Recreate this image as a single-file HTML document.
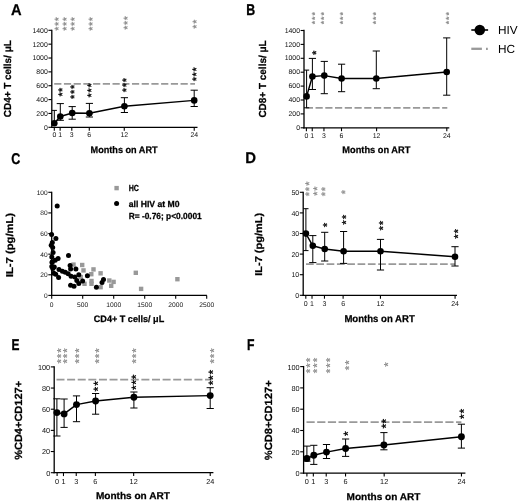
<!DOCTYPE html>
<html><head><meta charset="utf-8"><title>Figure</title>
<style>html,body{margin:0;padding:0;background:#fff;width:520px;height:503px;overflow:hidden}
svg{display:block;font-family:"Liberation Sans", sans-serif;filter:blur(0.3px)}</style></head>
<body>
<svg width="520" height="503" viewBox="0 0 520 503" text-rendering="geometricPrecision" font-family='"Liberation Sans", sans-serif'>
<rect width="520" height="503" fill="#fff"/>
<text font-size="15.6" font-weight="bold" stroke="#000" stroke-width="0.27" transform="translate(10.88 14.7) scale(0.941 1)">A</text>
<text font-size="15.6" font-weight="bold" stroke="#000" stroke-width="0.32" transform="translate(246.27 14.6) scale(0.793 1)">B</text>
<text font-size="15.6" font-weight="bold" stroke="#000" stroke-width="0.31" transform="translate(11.19 163.6) scale(0.804 1)">C</text>
<text font-size="15.6" font-weight="bold" stroke="#000" stroke-width="0.26" transform="translate(245.15 163.4) scale(0.957 1)">D</text>
<text font-size="15.6" font-weight="bold" stroke="#000" stroke-width="0.33" transform="translate(11.4 349.7) scale(0.766 1)">E</text>
<text font-size="15.6" font-weight="bold" stroke="#000" stroke-width="0.32" transform="translate(246.98 349.6) scale(0.784 1)">F</text>
<line x1="54.2" y1="83.9" x2="195" y2="83.9" stroke="#999" stroke-width="1.6" stroke-dasharray="7.2 2.52" stroke-linecap="butt"/>
<line x1="51.8" y1="29.65" x2="51.8" y2="127.95" stroke="#000" stroke-width="1.3" stroke-linecap="butt"/>
<line x1="48.4" y1="127.3" x2="51.8" y2="127.3" stroke="#000" stroke-width="1.1" stroke-linecap="butt"/>
<text x="47.8" y="129.68" font-size="6.9" text-anchor="end" fill="#111">0</text>
<line x1="48.4" y1="113.44" x2="51.8" y2="113.44" stroke="#000" stroke-width="1.1" stroke-linecap="butt"/>
<text x="47.8" y="115.83" font-size="6.9" text-anchor="end" fill="#111">200</text>
<line x1="48.4" y1="99.59" x2="51.8" y2="99.59" stroke="#000" stroke-width="1.1" stroke-linecap="butt"/>
<text x="47.8" y="101.97" font-size="6.9" text-anchor="end" fill="#111">400</text>
<line x1="48.4" y1="85.73" x2="51.8" y2="85.73" stroke="#000" stroke-width="1.1" stroke-linecap="butt"/>
<text x="47.8" y="88.11" font-size="6.9" text-anchor="end" fill="#111">600</text>
<line x1="48.4" y1="71.87" x2="51.8" y2="71.87" stroke="#000" stroke-width="1.1" stroke-linecap="butt"/>
<text x="47.8" y="74.26" font-size="6.9" text-anchor="end" fill="#111">800</text>
<line x1="48.4" y1="58.01" x2="51.8" y2="58.01" stroke="#000" stroke-width="1.1" stroke-linecap="butt"/>
<text x="47.8" y="60.4" font-size="6.9" text-anchor="end" fill="#111">1000</text>
<line x1="48.4" y1="44.16" x2="51.8" y2="44.16" stroke="#000" stroke-width="1.1" stroke-linecap="butt"/>
<text x="47.8" y="46.54" font-size="6.9" text-anchor="end" fill="#111">1200</text>
<line x1="48.4" y1="30.3" x2="51.8" y2="30.3" stroke="#000" stroke-width="1.1" stroke-linecap="butt"/>
<text x="47.8" y="32.68" font-size="6.9" text-anchor="end" fill="#111">1400</text>
<line x1="51.15" y1="127.3" x2="197.5" y2="127.3" stroke="#000" stroke-width="1.3" stroke-linecap="butt"/>
<line x1="54.3" y1="127.3" x2="54.3" y2="130.7" stroke="#000" stroke-width="1.1" stroke-linecap="butt"/>
<text x="54.3" y="137.46" font-size="6.9" text-anchor="middle" fill="#111">0</text>
<line x1="60.13" y1="127.3" x2="60.13" y2="130.7" stroke="#000" stroke-width="1.1" stroke-linecap="butt"/>
<text x="60.13" y="137.46" font-size="6.9" text-anchor="middle" fill="#111">1</text>
<line x1="71.79" y1="127.3" x2="71.79" y2="130.7" stroke="#000" stroke-width="1.1" stroke-linecap="butt"/>
<text x="71.79" y="137.46" font-size="6.9" text-anchor="middle" fill="#111">3</text>
<line x1="89.28" y1="127.3" x2="89.28" y2="130.7" stroke="#000" stroke-width="1.1" stroke-linecap="butt"/>
<text x="89.28" y="137.46" font-size="6.9" text-anchor="middle" fill="#111">6</text>
<line x1="124.26" y1="127.3" x2="124.26" y2="130.7" stroke="#000" stroke-width="1.1" stroke-linecap="butt"/>
<text x="124.26" y="137.46" font-size="6.9" text-anchor="middle" fill="#111">12</text>
<line x1="194.22" y1="127.3" x2="194.22" y2="130.7" stroke="#000" stroke-width="1.1" stroke-linecap="butt"/>
<text x="194.22" y="137.46" font-size="6.9" text-anchor="middle" fill="#111">24</text>
<path d="M54.3 123.3L60.3 116.5L72.2 113L89.4 113.2L124.4 106.2L194.2 100.4" stroke="#000" stroke-width="1.45" fill="none" stroke-linejoin="round"/>
<line x1="54.3" y1="110.4" x2="54.3" y2="123.3" stroke="#000" stroke-width="1" stroke-linecap="butt"/>
<line x1="51.7" y1="110.4" x2="56.9" y2="110.4" stroke="#000" stroke-width="1" stroke-linecap="butt"/>
<line x1="60.3" y1="103.6" x2="60.3" y2="116.5" stroke="#000" stroke-width="1" stroke-linecap="butt"/>
<line x1="56.7" y1="103.6" x2="63.9" y2="103.6" stroke="#000" stroke-width="1" stroke-linecap="butt"/>
<line x1="60.3" y1="116.5" x2="60.3" y2="120.3" stroke="#000" stroke-width="1" stroke-linecap="butt"/>
<line x1="56.7" y1="120.3" x2="63.9" y2="120.3" stroke="#000" stroke-width="1" stroke-linecap="butt"/>
<line x1="72.2" y1="106.6" x2="72.2" y2="113" stroke="#000" stroke-width="1" stroke-linecap="butt"/>
<line x1="68.6" y1="106.6" x2="75.8" y2="106.6" stroke="#000" stroke-width="1" stroke-linecap="butt"/>
<line x1="72.2" y1="113" x2="72.2" y2="119.2" stroke="#000" stroke-width="1" stroke-linecap="butt"/>
<line x1="68.6" y1="119.2" x2="75.8" y2="119.2" stroke="#000" stroke-width="1" stroke-linecap="butt"/>
<line x1="89.4" y1="103.4" x2="89.4" y2="113.2" stroke="#000" stroke-width="1" stroke-linecap="butt"/>
<line x1="85.8" y1="103.4" x2="93" y2="103.4" stroke="#000" stroke-width="1" stroke-linecap="butt"/>
<line x1="89.4" y1="113.2" x2="89.4" y2="117" stroke="#000" stroke-width="1" stroke-linecap="butt"/>
<line x1="85.8" y1="117" x2="93" y2="117" stroke="#000" stroke-width="1" stroke-linecap="butt"/>
<line x1="124.4" y1="97.7" x2="124.4" y2="106.2" stroke="#000" stroke-width="1" stroke-linecap="butt"/>
<line x1="120.8" y1="97.7" x2="128" y2="97.7" stroke="#000" stroke-width="1" stroke-linecap="butt"/>
<line x1="124.4" y1="106.2" x2="124.4" y2="112.5" stroke="#000" stroke-width="1" stroke-linecap="butt"/>
<line x1="120.8" y1="112.5" x2="128" y2="112.5" stroke="#000" stroke-width="1" stroke-linecap="butt"/>
<line x1="194.2" y1="90.2" x2="194.2" y2="100.4" stroke="#000" stroke-width="1" stroke-linecap="butt"/>
<line x1="190.6" y1="90.2" x2="197.8" y2="90.2" stroke="#000" stroke-width="1" stroke-linecap="butt"/>
<line x1="194.2" y1="100.4" x2="194.2" y2="106.5" stroke="#000" stroke-width="1" stroke-linecap="butt"/>
<line x1="190.6" y1="106.5" x2="197.8" y2="106.5" stroke="#000" stroke-width="1" stroke-linecap="butt"/>
<circle cx="54.3" cy="123.3" r="3.3"/>
<circle cx="60.3" cy="116.5" r="3.3"/>
<circle cx="72.2" cy="113" r="3.3"/>
<circle cx="89.4" cy="113.2" r="3.3"/>
<circle cx="124.4" cy="106.2" r="3.3"/>
<circle cx="194.2" cy="100.4" r="3.3"/>
<text x="66.44" y="92" font-size="10.8" stroke="#000" stroke-width="0.35" transform="rotate(-90 66.44 92)">*</text>
<text x="66.44" y="96.4" font-size="10.8" stroke="#000" stroke-width="0.35" transform="rotate(-90 66.44 96.4)">*</text>
<text x="78.14" y="89" font-size="10.8" stroke="#000" stroke-width="0.35" transform="rotate(-90 78.14 89)">*</text>
<text x="78.14" y="94" font-size="10.8" stroke="#000" stroke-width="0.35" transform="rotate(-90 78.14 94)">*</text>
<text x="78.14" y="99" font-size="10.8" stroke="#000" stroke-width="0.35" transform="rotate(-90 78.14 99)">*</text>
<text x="95.34" y="87.6" font-size="10.8" stroke="#000" stroke-width="0.35" transform="rotate(-90 95.34 87.6)">*</text>
<text x="95.34" y="92.6" font-size="10.8" stroke="#000" stroke-width="0.35" transform="rotate(-90 95.34 92.6)">*</text>
<text x="95.34" y="97.6" font-size="10.8" stroke="#000" stroke-width="0.35" transform="rotate(-90 95.34 97.6)">*</text>
<text x="130.34" y="82.3" font-size="10.8" stroke="#000" stroke-width="0.35" transform="rotate(-90 130.34 82.3)">*</text>
<text x="130.34" y="87.3" font-size="10.8" stroke="#000" stroke-width="0.35" transform="rotate(-90 130.34 87.3)">*</text>
<text x="130.34" y="92.3" font-size="10.8" stroke="#000" stroke-width="0.35" transform="rotate(-90 130.34 92.3)">*</text>
<text x="200.34" y="71.5" font-size="10.8" stroke="#000" stroke-width="0.35" transform="rotate(-90 200.34 71.5)">*</text>
<text x="200.34" y="76.4" font-size="10.8" stroke="#000" stroke-width="0.35" transform="rotate(-90 200.34 76.4)">*</text>
<text x="200.34" y="81.2" font-size="10.8" stroke="#000" stroke-width="0.35" transform="rotate(-90 200.34 81.2)">*</text>
<text x="62.28" y="21.35" font-size="10.5" fill="#888" stroke="#888" stroke-width="0.25" transform="rotate(-90 62.28 21.35)">*</text>
<text x="62.28" y="26.05" font-size="10.5" fill="#888" stroke="#888" stroke-width="0.25" transform="rotate(-90 62.28 26.05)">*</text>
<text x="62.28" y="30.75" font-size="10.5" fill="#888" stroke="#888" stroke-width="0.25" transform="rotate(-90 62.28 30.75)">*</text>
<text x="69.98" y="21.35" font-size="10.5" fill="#888" stroke="#888" stroke-width="0.25" transform="rotate(-90 69.98 21.35)">*</text>
<text x="69.98" y="26.05" font-size="10.5" fill="#888" stroke="#888" stroke-width="0.25" transform="rotate(-90 69.98 26.05)">*</text>
<text x="69.98" y="30.75" font-size="10.5" fill="#888" stroke="#888" stroke-width="0.25" transform="rotate(-90 69.98 30.75)">*</text>
<text x="78.08" y="21.35" font-size="10.5" fill="#888" stroke="#888" stroke-width="0.25" transform="rotate(-90 78.08 21.35)">*</text>
<text x="78.08" y="26.05" font-size="10.5" fill="#888" stroke="#888" stroke-width="0.25" transform="rotate(-90 78.08 26.05)">*</text>
<text x="78.08" y="30.75" font-size="10.5" fill="#888" stroke="#888" stroke-width="0.25" transform="rotate(-90 78.08 30.75)">*</text>
<text x="95.78" y="21.35" font-size="10.5" fill="#888" stroke="#888" stroke-width="0.25" transform="rotate(-90 95.78 21.35)">*</text>
<text x="95.78" y="26.05" font-size="10.5" fill="#888" stroke="#888" stroke-width="0.25" transform="rotate(-90 95.78 26.05)">*</text>
<text x="95.78" y="30.75" font-size="10.5" fill="#888" stroke="#888" stroke-width="0.25" transform="rotate(-90 95.78 30.75)">*</text>
<text x="131.18" y="20.25" font-size="10.5" fill="#888" stroke="#888" stroke-width="0.25" transform="rotate(-90 131.18 20.25)">*</text>
<text x="131.18" y="25.05" font-size="10.5" fill="#888" stroke="#888" stroke-width="0.25" transform="rotate(-90 131.18 25.05)">*</text>
<text x="131.18" y="29.85" font-size="10.5" fill="#888" stroke="#888" stroke-width="0.25" transform="rotate(-90 131.18 29.85)">*</text>
<text x="200.18" y="23.85" font-size="10.5" fill="#888" stroke="#888" stroke-width="0.25" transform="rotate(-90 200.18 23.85)">*</text>
<text x="200.18" y="28.85" font-size="10.5" fill="#888" stroke="#888" stroke-width="0.25" transform="rotate(-90 200.18 28.85)">*</text>
<text x="10.6" y="117.2" font-size="10.2" font-weight="bold" textLength="77" lengthAdjust="spacingAndGlyphs" transform="rotate(-90 10.6 117.2)" stroke="#000" stroke-width="0.25">CD4+ T cells/ μL</text>
<text x="90.6" y="152.6" font-size="9.6" font-weight="bold" textLength="67" lengthAdjust="spacingAndGlyphs" stroke="#000" stroke-width="0.25">Months on ART</text>
<line x1="305.8" y1="107.9" x2="447.3" y2="107.9" stroke="#999" stroke-width="1.6" stroke-dasharray="7.2 2.54" stroke-linecap="butt"/>
<line x1="304" y1="29.85" x2="304" y2="128.45" stroke="#000" stroke-width="1.3" stroke-linecap="butt"/>
<line x1="300.6" y1="127.8" x2="304" y2="127.8" stroke="#000" stroke-width="1.1" stroke-linecap="butt"/>
<text x="300" y="129.98" font-size="6.9" text-anchor="end" fill="#111">0</text>
<line x1="300.6" y1="113.9" x2="304" y2="113.9" stroke="#000" stroke-width="1.1" stroke-linecap="butt"/>
<text x="300" y="116.08" font-size="6.9" text-anchor="end" fill="#111">200</text>
<line x1="300.6" y1="100" x2="304" y2="100" stroke="#000" stroke-width="1.1" stroke-linecap="butt"/>
<text x="300" y="102.18" font-size="6.9" text-anchor="end" fill="#111">400</text>
<line x1="300.6" y1="86.1" x2="304" y2="86.1" stroke="#000" stroke-width="1.1" stroke-linecap="butt"/>
<text x="300" y="88.28" font-size="6.9" text-anchor="end" fill="#111">600</text>
<line x1="300.6" y1="72.2" x2="304" y2="72.2" stroke="#000" stroke-width="1.1" stroke-linecap="butt"/>
<text x="300" y="74.38" font-size="6.9" text-anchor="end" fill="#111">800</text>
<line x1="300.6" y1="58.3" x2="304" y2="58.3" stroke="#000" stroke-width="1.1" stroke-linecap="butt"/>
<text x="300" y="60.48" font-size="6.9" text-anchor="end" fill="#111">1000</text>
<line x1="300.6" y1="44.4" x2="304" y2="44.4" stroke="#000" stroke-width="1.1" stroke-linecap="butt"/>
<text x="300" y="46.58" font-size="6.9" text-anchor="end" fill="#111">1200</text>
<line x1="300.6" y1="30.5" x2="304" y2="30.5" stroke="#000" stroke-width="1.1" stroke-linecap="butt"/>
<text x="300" y="32.68" font-size="6.9" text-anchor="end" fill="#111">1400</text>
<line x1="303.35" y1="127.8" x2="449.3" y2="127.8" stroke="#000" stroke-width="1.3" stroke-linecap="butt"/>
<line x1="306.4" y1="127.8" x2="306.4" y2="131.2" stroke="#000" stroke-width="1.1" stroke-linecap="butt"/>
<text x="306.4" y="137.96" font-size="6.9" text-anchor="middle" fill="#111">0</text>
<line x1="312.25" y1="127.8" x2="312.25" y2="131.2" stroke="#000" stroke-width="1.1" stroke-linecap="butt"/>
<text x="312.25" y="137.96" font-size="6.9" text-anchor="middle" fill="#111">1</text>
<line x1="323.95" y1="127.8" x2="323.95" y2="131.2" stroke="#000" stroke-width="1.1" stroke-linecap="butt"/>
<text x="323.95" y="137.96" font-size="6.9" text-anchor="middle" fill="#111">3</text>
<line x1="341.5" y1="127.8" x2="341.5" y2="131.2" stroke="#000" stroke-width="1.1" stroke-linecap="butt"/>
<text x="341.5" y="137.96" font-size="6.9" text-anchor="middle" fill="#111">6</text>
<line x1="376.6" y1="127.8" x2="376.6" y2="131.2" stroke="#000" stroke-width="1.1" stroke-linecap="butt"/>
<text x="376.6" y="137.96" font-size="6.9" text-anchor="middle" fill="#111">12</text>
<line x1="446.8" y1="127.8" x2="446.8" y2="131.2" stroke="#000" stroke-width="1.1" stroke-linecap="butt"/>
<text x="446.8" y="137.96" font-size="6.9" text-anchor="middle" fill="#111">24</text>
<path d="M306.6 96.4L312.4 76.5L324.3 75.6L341.6 78.5L376.3 78.5L446.7 72" stroke="#000" stroke-width="1.45" fill="none" stroke-linejoin="round"/>
<line x1="306.6" y1="70.1" x2="306.6" y2="96.4" stroke="#000" stroke-width="1" stroke-linecap="butt"/>
<line x1="304" y1="70.1" x2="309.2" y2="70.1" stroke="#000" stroke-width="1" stroke-linecap="butt"/>
<line x1="306.6" y1="96.4" x2="306.6" y2="107.8" stroke="#000" stroke-width="1" stroke-linecap="butt"/>
<line x1="304" y1="107.8" x2="309.2" y2="107.8" stroke="#000" stroke-width="1" stroke-linecap="butt"/>
<line x1="312.4" y1="58.4" x2="312.4" y2="76.5" stroke="#000" stroke-width="1" stroke-linecap="butt"/>
<line x1="308.8" y1="58.4" x2="316" y2="58.4" stroke="#000" stroke-width="1" stroke-linecap="butt"/>
<line x1="312.4" y1="76.5" x2="312.4" y2="89.5" stroke="#000" stroke-width="1" stroke-linecap="butt"/>
<line x1="308.8" y1="89.5" x2="316" y2="89.5" stroke="#000" stroke-width="1" stroke-linecap="butt"/>
<line x1="324.3" y1="61.4" x2="324.3" y2="75.6" stroke="#000" stroke-width="1" stroke-linecap="butt"/>
<line x1="320.7" y1="61.4" x2="327.9" y2="61.4" stroke="#000" stroke-width="1" stroke-linecap="butt"/>
<line x1="324.3" y1="75.6" x2="324.3" y2="93.7" stroke="#000" stroke-width="1" stroke-linecap="butt"/>
<line x1="320.7" y1="93.7" x2="327.9" y2="93.7" stroke="#000" stroke-width="1" stroke-linecap="butt"/>
<line x1="341.6" y1="64.2" x2="341.6" y2="78.5" stroke="#000" stroke-width="1" stroke-linecap="butt"/>
<line x1="338" y1="64.2" x2="345.2" y2="64.2" stroke="#000" stroke-width="1" stroke-linecap="butt"/>
<line x1="341.6" y1="78.5" x2="341.6" y2="91.7" stroke="#000" stroke-width="1" stroke-linecap="butt"/>
<line x1="338" y1="91.7" x2="345.2" y2="91.7" stroke="#000" stroke-width="1" stroke-linecap="butt"/>
<line x1="376.3" y1="51" x2="376.3" y2="78.5" stroke="#000" stroke-width="1" stroke-linecap="butt"/>
<line x1="372.7" y1="51" x2="379.9" y2="51" stroke="#000" stroke-width="1" stroke-linecap="butt"/>
<line x1="376.3" y1="78.5" x2="376.3" y2="88.7" stroke="#000" stroke-width="1" stroke-linecap="butt"/>
<line x1="372.7" y1="88.7" x2="379.9" y2="88.7" stroke="#000" stroke-width="1" stroke-linecap="butt"/>
<line x1="446.7" y1="37.9" x2="446.7" y2="72" stroke="#000" stroke-width="1" stroke-linecap="butt"/>
<line x1="443.1" y1="37.9" x2="450.3" y2="37.9" stroke="#000" stroke-width="1" stroke-linecap="butt"/>
<line x1="446.7" y1="72" x2="446.7" y2="95.2" stroke="#000" stroke-width="1" stroke-linecap="butt"/>
<line x1="443.1" y1="95.2" x2="450.3" y2="95.2" stroke="#000" stroke-width="1" stroke-linecap="butt"/>
<circle cx="306.6" cy="96.4" r="3.3"/>
<circle cx="312.4" cy="76.5" r="3.3"/>
<circle cx="324.3" cy="75.6" r="3.3"/>
<circle cx="341.6" cy="78.5" r="3.3"/>
<circle cx="376.3" cy="78.5" r="3.3"/>
<circle cx="446.7" cy="72" r="3.3"/>
<text x="319.74" y="54.98" font-size="11.2" stroke="#000" stroke-width="0.35" transform="rotate(-90 319.74 54.98)">*</text>
<text x="318.41" y="15.61" font-size="8.8" fill="#888" stroke="#888" stroke-width="0.25" transform="rotate(-90 318.41 15.61)">*</text>
<text x="318.41" y="19.91" font-size="8.8" fill="#888" stroke="#888" stroke-width="0.25" transform="rotate(-90 318.41 19.91)">*</text>
<text x="318.41" y="24.21" font-size="8.8" fill="#888" stroke="#888" stroke-width="0.25" transform="rotate(-90 318.41 24.21)">*</text>
<text x="326.91" y="15.61" font-size="8.8" fill="#888" stroke="#888" stroke-width="0.25" transform="rotate(-90 326.91 15.61)">*</text>
<text x="326.91" y="19.91" font-size="8.8" fill="#888" stroke="#888" stroke-width="0.25" transform="rotate(-90 326.91 19.91)">*</text>
<text x="326.91" y="24.21" font-size="8.8" fill="#888" stroke="#888" stroke-width="0.25" transform="rotate(-90 326.91 24.21)">*</text>
<text x="346.11" y="15.61" font-size="8.8" fill="#888" stroke="#888" stroke-width="0.25" transform="rotate(-90 346.11 15.61)">*</text>
<text x="346.11" y="19.91" font-size="8.8" fill="#888" stroke="#888" stroke-width="0.25" transform="rotate(-90 346.11 19.91)">*</text>
<text x="346.11" y="24.21" font-size="8.8" fill="#888" stroke="#888" stroke-width="0.25" transform="rotate(-90 346.11 24.21)">*</text>
<text x="378.71" y="15.61" font-size="8.8" fill="#888" stroke="#888" stroke-width="0.25" transform="rotate(-90 378.71 15.61)">*</text>
<text x="378.71" y="19.91" font-size="8.8" fill="#888" stroke="#888" stroke-width="0.25" transform="rotate(-90 378.71 19.91)">*</text>
<text x="378.71" y="24.21" font-size="8.8" fill="#888" stroke="#888" stroke-width="0.25" transform="rotate(-90 378.71 24.21)">*</text>
<text x="451.91" y="15.61" font-size="8.8" fill="#888" stroke="#888" stroke-width="0.25" transform="rotate(-90 451.91 15.61)">*</text>
<text x="451.91" y="19.91" font-size="8.8" fill="#888" stroke="#888" stroke-width="0.25" transform="rotate(-90 451.91 19.91)">*</text>
<text x="451.91" y="24.21" font-size="8.8" fill="#888" stroke="#888" stroke-width="0.25" transform="rotate(-90 451.91 24.21)">*</text>
<text x="266.4" y="117.6" font-size="10.2" font-weight="bold" textLength="77.3" lengthAdjust="spacingAndGlyphs" transform="rotate(-90 266.4 117.6)" stroke="#000" stroke-width="0.25">CD8+ T cells/ μL</text>
<text x="342.3" y="152.6" font-size="9.6" font-weight="bold" textLength="68" lengthAdjust="spacingAndGlyphs" stroke="#000" stroke-width="0.25">Months on ART</text>
<line x1="471.3" y1="30" x2="488.1" y2="30" stroke="#000" stroke-width="1.6" stroke-linecap="butt"/>
<circle cx="479.8" cy="30" r="5.3"/>
<text x="498" y="34.1" font-size="11.8">HIV</text>
<line x1="471.3" y1="48.8" x2="481.9" y2="48.8" stroke="#999" stroke-width="2.3" stroke-linecap="butt"/>
<line x1="486" y1="48.8" x2="487.8" y2="48.8" stroke="#999" stroke-width="2.3" stroke-linecap="butt"/>
<text x="498" y="53.1" font-size="11.8">HC</text>
<line x1="51.7" y1="191.65" x2="51.7" y2="296.05" stroke="#000" stroke-width="1.3" stroke-linecap="butt"/>
<line x1="48.3" y1="295.4" x2="51.7" y2="295.4" stroke="#000" stroke-width="1.1" stroke-linecap="butt"/>
<text x="47.7" y="297.78" font-size="6.6" text-anchor="end" fill="#111">0</text>
<line x1="48.3" y1="274.78" x2="51.7" y2="274.78" stroke="#000" stroke-width="1.1" stroke-linecap="butt"/>
<text x="47.7" y="277.16" font-size="6.6" text-anchor="end" fill="#111">20</text>
<line x1="48.3" y1="254.16" x2="51.7" y2="254.16" stroke="#000" stroke-width="1.1" stroke-linecap="butt"/>
<text x="47.7" y="256.54" font-size="6.6" text-anchor="end" fill="#111">40</text>
<line x1="48.3" y1="233.54" x2="51.7" y2="233.54" stroke="#000" stroke-width="1.1" stroke-linecap="butt"/>
<text x="47.7" y="235.92" font-size="6.6" text-anchor="end" fill="#111">60</text>
<line x1="48.3" y1="212.92" x2="51.7" y2="212.92" stroke="#000" stroke-width="1.1" stroke-linecap="butt"/>
<text x="47.7" y="215.3" font-size="6.6" text-anchor="end" fill="#111">80</text>
<line x1="48.3" y1="192.3" x2="51.7" y2="192.3" stroke="#000" stroke-width="1.1" stroke-linecap="butt"/>
<text x="47.7" y="194.68" font-size="6.6" text-anchor="end" fill="#111">100</text>
<line x1="51.05" y1="295.4" x2="206.9" y2="295.4" stroke="#000" stroke-width="1.3" stroke-linecap="butt"/>
<line x1="51.7" y1="295.4" x2="51.7" y2="298.8" stroke="#000" stroke-width="1.1" stroke-linecap="butt"/>
<text x="51.7" y="306.6" font-size="6.7" text-anchor="middle" fill="#111">0</text>
<line x1="82.7" y1="295.4" x2="82.7" y2="298.8" stroke="#000" stroke-width="1.1" stroke-linecap="butt"/>
<text x="82.7" y="306.6" font-size="6.7" text-anchor="middle" fill="#111">500</text>
<line x1="113.7" y1="295.4" x2="113.7" y2="298.8" stroke="#000" stroke-width="1.1" stroke-linecap="butt"/>
<text x="113.7" y="306.6" font-size="6.7" text-anchor="middle" fill="#111">1000</text>
<line x1="144.7" y1="295.4" x2="144.7" y2="298.8" stroke="#000" stroke-width="1.1" stroke-linecap="butt"/>
<text x="144.7" y="306.6" font-size="6.7" text-anchor="middle" fill="#111">1500</text>
<line x1="175.7" y1="295.4" x2="175.7" y2="298.8" stroke="#000" stroke-width="1.1" stroke-linecap="butt"/>
<text x="175.7" y="306.6" font-size="6.7" text-anchor="middle" fill="#111">2000</text>
<line x1="206.7" y1="295.4" x2="206.7" y2="298.8" stroke="#000" stroke-width="1.1" stroke-linecap="butt"/>
<text x="206.7" y="306.6" font-size="6.7" text-anchor="middle" fill="#111">2500</text>
<rect x="71.3" y="262.4" width="4.4" height="4.4" fill="#999"/>
<rect x="80" y="262.8" width="4.4" height="4.4" fill="#999"/>
<rect x="81.3" y="268.2" width="4.4" height="4.4" fill="#999"/>
<rect x="91.3" y="267.2" width="4.4" height="4.4" fill="#999"/>
<rect x="98.4" y="271.1" width="4.4" height="4.4" fill="#999"/>
<rect x="89.1" y="272" width="4.4" height="4.4" fill="#999"/>
<rect x="78.5" y="274.9" width="4.4" height="4.4" fill="#999"/>
<rect x="89.3" y="278.8" width="4.4" height="4.4" fill="#999"/>
<rect x="89.3" y="281.6" width="4.4" height="4.4" fill="#999"/>
<rect x="82.3" y="281.6" width="4.4" height="4.4" fill="#999"/>
<rect x="98.4" y="285" width="4.4" height="4.4" fill="#999"/>
<rect x="107.1" y="278.3" width="4.4" height="4.4" fill="#999"/>
<rect x="111.4" y="279.7" width="4.4" height="4.4" fill="#999"/>
<rect x="109" y="283.6" width="4.4" height="4.4" fill="#999"/>
<rect x="133.6" y="270.6" width="4.4" height="4.4" fill="#999"/>
<rect x="175.2" y="277" width="4.4" height="4.4" fill="#999"/>
<rect x="138.9" y="286.7" width="4.4" height="4.4" fill="#999"/>
<circle cx="57.2" cy="206.1" r="2.5"/>
<circle cx="51.6" cy="234.6" r="2.5"/>
<circle cx="55.9" cy="238.5" r="2.5"/>
<circle cx="52.3" cy="242.4" r="2.5"/>
<circle cx="51.2" cy="245.2" r="2.5"/>
<circle cx="52.7" cy="247.6" r="2.5"/>
<circle cx="53.1" cy="252.4" r="2.5"/>
<circle cx="68.5" cy="255.5" r="2.5"/>
<circle cx="51.8" cy="257" r="2.5"/>
<circle cx="58.1" cy="258.4" r="2.5"/>
<circle cx="52.3" cy="261.7" r="2.5"/>
<circle cx="55.2" cy="260.2" r="2.5"/>
<circle cx="52" cy="262.6" r="2.5"/>
<circle cx="51.8" cy="266.5" r="2.5"/>
<circle cx="54.3" cy="267" r="2.5"/>
<circle cx="52.8" cy="268.5" r="2.5"/>
<circle cx="59" cy="269.4" r="2.5"/>
<circle cx="62.4" cy="271.3" r="2.5"/>
<circle cx="65.3" cy="272.3" r="2.5"/>
<circle cx="68.2" cy="273.8" r="2.5"/>
<circle cx="70.1" cy="265.6" r="2.5"/>
<circle cx="70.6" cy="269" r="2.5"/>
<circle cx="75.9" cy="269" r="2.5"/>
<circle cx="78.8" cy="274.7" r="2.5"/>
<circle cx="74.9" cy="277.1" r="2.5"/>
<circle cx="71.1" cy="276.2" r="2.5"/>
<circle cx="55.7" cy="274.2" r="2.5"/>
<circle cx="58.6" cy="277.6" r="2.5"/>
<circle cx="53.8" cy="273.3" r="2.5"/>
<circle cx="87.4" cy="275.7" r="2.5"/>
<circle cx="76.8" cy="280.5" r="2.5"/>
<circle cx="82.6" cy="281" r="2.5"/>
<circle cx="78.8" cy="283.4" r="2.5"/>
<circle cx="70.6" cy="285.3" r="2.5"/>
<circle cx="74" cy="286.3" r="2.5"/>
<circle cx="96.4" cy="287.2" r="2.5"/>
<circle cx="103.5" cy="279.5" r="2.5"/>
<circle cx="102" cy="282.4" r="2.5"/>
<rect x="114.4" y="185.9" width="4.4" height="4.4" fill="#999"/>
<circle cx="116.6" cy="203.6" r="2.5"/>
<text x="128.7" y="191.3" font-size="8.8" font-weight="bold" textLength="10.2" lengthAdjust="spacingAndGlyphs" stroke="#000" stroke-width="0.25">HC</text>
<text x="128.7" y="207.2" font-size="8.8" font-weight="bold" textLength="50.8" lengthAdjust="spacingAndGlyphs" stroke="#000" stroke-width="0.25">all HIV at M0</text>
<text x="128.7" y="219.4" font-size="8.8" font-weight="bold" textLength="73" lengthAdjust="spacingAndGlyphs" stroke="#000" stroke-width="0.25">R= -0.76; p&lt;0.0001</text>
<text x="13.1" y="277.1" font-size="10" font-weight="bold" textLength="64.2" lengthAdjust="spacingAndGlyphs" transform="rotate(-90 13.1 277.1)" stroke="#000" stroke-width="0.25">IL-7 (pg/mL)</text>
<text x="93.8" y="321.7" font-size="9.3" font-weight="bold" textLength="70.4" lengthAdjust="spacingAndGlyphs" stroke="#000" stroke-width="0.25">CD4+ T cells/ μL</text>
<line x1="306" y1="264.1" x2="455" y2="264.1" stroke="#999" stroke-width="1.6" stroke-dasharray="7.7 2.61" stroke-linecap="butt"/>
<line x1="303.2" y1="191.65" x2="303.2" y2="295.95" stroke="#000" stroke-width="1.3" stroke-linecap="butt"/>
<line x1="299.8" y1="295.3" x2="303.2" y2="295.3" stroke="#000" stroke-width="1.1" stroke-linecap="butt"/>
<text x="299.2" y="297.92" font-size="7" text-anchor="end" fill="#111">0</text>
<line x1="299.8" y1="274.7" x2="303.2" y2="274.7" stroke="#000" stroke-width="1.1" stroke-linecap="butt"/>
<text x="299.2" y="277.32" font-size="7" text-anchor="end" fill="#111">10</text>
<line x1="299.8" y1="254.1" x2="303.2" y2="254.1" stroke="#000" stroke-width="1.1" stroke-linecap="butt"/>
<text x="299.2" y="256.72" font-size="7" text-anchor="end" fill="#111">20</text>
<line x1="299.8" y1="233.5" x2="303.2" y2="233.5" stroke="#000" stroke-width="1.1" stroke-linecap="butt"/>
<text x="299.2" y="236.12" font-size="7" text-anchor="end" fill="#111">30</text>
<line x1="299.8" y1="212.9" x2="303.2" y2="212.9" stroke="#000" stroke-width="1.1" stroke-linecap="butt"/>
<text x="299.2" y="215.52" font-size="7" text-anchor="end" fill="#111">40</text>
<line x1="299.8" y1="192.3" x2="303.2" y2="192.3" stroke="#000" stroke-width="1.1" stroke-linecap="butt"/>
<text x="299.2" y="194.92" font-size="7" text-anchor="end" fill="#111">50</text>
<line x1="302.55" y1="295.3" x2="457" y2="295.3" stroke="#000" stroke-width="1.3" stroke-linecap="butt"/>
<line x1="305.8" y1="295.3" x2="305.8" y2="298.7" stroke="#000" stroke-width="1.1" stroke-linecap="butt"/>
<text x="305.8" y="305.56" font-size="7" text-anchor="middle" fill="#111">0</text>
<line x1="312.02" y1="295.3" x2="312.02" y2="298.7" stroke="#000" stroke-width="1.1" stroke-linecap="butt"/>
<text x="312.02" y="305.56" font-size="7" text-anchor="middle" fill="#111">1</text>
<line x1="324.46" y1="295.3" x2="324.46" y2="298.7" stroke="#000" stroke-width="1.1" stroke-linecap="butt"/>
<text x="324.46" y="305.56" font-size="7" text-anchor="middle" fill="#111">3</text>
<line x1="343.12" y1="295.3" x2="343.12" y2="298.7" stroke="#000" stroke-width="1.1" stroke-linecap="butt"/>
<text x="343.12" y="305.56" font-size="7" text-anchor="middle" fill="#111">6</text>
<line x1="380.44" y1="295.3" x2="380.44" y2="298.7" stroke="#000" stroke-width="1.1" stroke-linecap="butt"/>
<text x="380.44" y="305.56" font-size="7" text-anchor="middle" fill="#111">12</text>
<line x1="455.08" y1="295.3" x2="455.08" y2="298.7" stroke="#000" stroke-width="1.1" stroke-linecap="butt"/>
<text x="455.08" y="305.56" font-size="7" text-anchor="middle" fill="#111">24</text>
<path d="M305.9 233.6L312.8 245.8L324.7 249L343.6 251.3L380.5 251.3L455 256.7" stroke="#000" stroke-width="1.45" fill="none" stroke-linejoin="round"/>
<line x1="305.9" y1="208.7" x2="305.9" y2="233.6" stroke="#000" stroke-width="1" stroke-linecap="butt"/>
<line x1="303.3" y1="208.7" x2="308.5" y2="208.7" stroke="#000" stroke-width="1" stroke-linecap="butt"/>
<line x1="305.9" y1="233.6" x2="305.9" y2="250.6" stroke="#000" stroke-width="1" stroke-linecap="butt"/>
<line x1="303.3" y1="250.6" x2="308.5" y2="250.6" stroke="#000" stroke-width="1" stroke-linecap="butt"/>
<line x1="312.8" y1="235.6" x2="312.8" y2="245.8" stroke="#000" stroke-width="1" stroke-linecap="butt"/>
<line x1="309.2" y1="235.6" x2="316.4" y2="235.6" stroke="#000" stroke-width="1" stroke-linecap="butt"/>
<line x1="312.8" y1="245.8" x2="312.8" y2="262.6" stroke="#000" stroke-width="1" stroke-linecap="butt"/>
<line x1="309.2" y1="262.6" x2="316.4" y2="262.6" stroke="#000" stroke-width="1" stroke-linecap="butt"/>
<line x1="324.7" y1="232.3" x2="324.7" y2="249" stroke="#000" stroke-width="1" stroke-linecap="butt"/>
<line x1="321.1" y1="232.3" x2="328.3" y2="232.3" stroke="#000" stroke-width="1" stroke-linecap="butt"/>
<line x1="324.7" y1="249" x2="324.7" y2="261" stroke="#000" stroke-width="1" stroke-linecap="butt"/>
<line x1="321.1" y1="261" x2="328.3" y2="261" stroke="#000" stroke-width="1" stroke-linecap="butt"/>
<line x1="343.6" y1="231.5" x2="343.6" y2="251.3" stroke="#000" stroke-width="1" stroke-linecap="butt"/>
<line x1="340" y1="231.5" x2="347.2" y2="231.5" stroke="#000" stroke-width="1" stroke-linecap="butt"/>
<line x1="343.6" y1="251.3" x2="343.6" y2="263.4" stroke="#000" stroke-width="1" stroke-linecap="butt"/>
<line x1="340" y1="263.4" x2="347.2" y2="263.4" stroke="#000" stroke-width="1" stroke-linecap="butt"/>
<line x1="380.5" y1="239.4" x2="380.5" y2="251.3" stroke="#000" stroke-width="1" stroke-linecap="butt"/>
<line x1="376.9" y1="239.4" x2="384.1" y2="239.4" stroke="#000" stroke-width="1" stroke-linecap="butt"/>
<line x1="380.5" y1="251.3" x2="380.5" y2="270" stroke="#000" stroke-width="1" stroke-linecap="butt"/>
<line x1="376.9" y1="270" x2="384.1" y2="270" stroke="#000" stroke-width="1" stroke-linecap="butt"/>
<line x1="455" y1="246.7" x2="455" y2="256.7" stroke="#000" stroke-width="1" stroke-linecap="butt"/>
<line x1="451.4" y1="246.7" x2="458.6" y2="246.7" stroke="#000" stroke-width="1" stroke-linecap="butt"/>
<line x1="455" y1="256.7" x2="455" y2="266" stroke="#000" stroke-width="1" stroke-linecap="butt"/>
<line x1="451.4" y1="266" x2="458.6" y2="266" stroke="#000" stroke-width="1" stroke-linecap="butt"/>
<circle cx="305.9" cy="233.6" r="3.3"/>
<circle cx="312.8" cy="245.8" r="3.3"/>
<circle cx="324.7" cy="249" r="3.3"/>
<circle cx="343.6" cy="251.3" r="3.3"/>
<circle cx="380.5" cy="251.3" r="3.3"/>
<circle cx="455" cy="256.7" r="3.3"/>
<text x="330.74" y="227.36" font-size="11.6" stroke="#000" stroke-width="0.35" transform="rotate(-90 330.74 227.36)">*</text>
<text x="350.34" y="219.36" font-size="11.6" stroke="#000" stroke-width="0.35" transform="rotate(-90 350.34 219.36)">*</text>
<text x="350.34" y="224.66" font-size="11.6" stroke="#000" stroke-width="0.35" transform="rotate(-90 350.34 224.66)">*</text>
<text x="387.24" y="225.16" font-size="11.6" stroke="#000" stroke-width="0.35" transform="rotate(-90 387.24 225.16)">*</text>
<text x="387.24" y="230.46" font-size="11.6" stroke="#000" stroke-width="0.35" transform="rotate(-90 387.24 230.46)">*</text>
<text x="461.74" y="233.46" font-size="11.6" stroke="#000" stroke-width="0.35" transform="rotate(-90 461.74 233.46)">*</text>
<text x="461.74" y="238.66" font-size="11.6" stroke="#000" stroke-width="0.35" transform="rotate(-90 461.74 238.66)">*</text>
<text x="313.44" y="185.84" font-size="11" fill="#888" stroke="#888" stroke-width="0.25" transform="rotate(-90 313.44 185.84)">*</text>
<text x="313.44" y="191.14" font-size="11" fill="#888" stroke="#888" stroke-width="0.25" transform="rotate(-90 313.44 191.14)">*</text>
<text x="313.44" y="196.24" font-size="11" fill="#888" stroke="#888" stroke-width="0.25" transform="rotate(-90 313.44 196.24)">*</text>
<text x="320.94" y="190.64" font-size="11" fill="#888" stroke="#888" stroke-width="0.25" transform="rotate(-90 320.94 190.64)">*</text>
<text x="320.94" y="195.74" font-size="11" fill="#888" stroke="#888" stroke-width="0.25" transform="rotate(-90 320.94 195.74)">*</text>
<text x="329.14" y="191.14" font-size="11" fill="#888" stroke="#888" stroke-width="0.25" transform="rotate(-90 329.14 191.14)">*</text>
<text x="329.14" y="196.24" font-size="11" fill="#888" stroke="#888" stroke-width="0.25" transform="rotate(-90 329.14 196.24)">*</text>
<text x="348.74" y="194.34" font-size="11" fill="#888" stroke="#888" stroke-width="0.25" transform="rotate(-90 348.74 194.34)">*</text>
<text x="262" y="275.7" font-size="10" font-weight="bold" textLength="62.8" lengthAdjust="spacingAndGlyphs" transform="rotate(-90 262 275.7)" stroke="#000" stroke-width="0.25">IL-7 (pg/mL)</text>
<text x="344.4" y="321.9" font-size="10" font-weight="bold" textLength="70.4" lengthAdjust="spacingAndGlyphs" stroke="#000" stroke-width="0.25">Months on ART</text>
<line x1="56.5" y1="379.6" x2="212.3" y2="379.6" stroke="#999" stroke-width="1.6" stroke-dasharray="8.0 2.61" stroke-linecap="butt"/>
<line x1="54.2" y1="366.25" x2="54.2" y2="473.35" stroke="#000" stroke-width="1.3" stroke-linecap="butt"/>
<line x1="50.8" y1="472.7" x2="54.2" y2="472.7" stroke="#000" stroke-width="1.1" stroke-linecap="butt"/>
<text x="50.2" y="475.53" font-size="7.3" text-anchor="end" fill="#111">0</text>
<line x1="50.8" y1="451.54" x2="54.2" y2="451.54" stroke="#000" stroke-width="1.1" stroke-linecap="butt"/>
<text x="50.2" y="454.37" font-size="7.3" text-anchor="end" fill="#111">20</text>
<line x1="50.8" y1="430.38" x2="54.2" y2="430.38" stroke="#000" stroke-width="1.1" stroke-linecap="butt"/>
<text x="50.2" y="433.21" font-size="7.3" text-anchor="end" fill="#111">40</text>
<line x1="50.8" y1="409.22" x2="54.2" y2="409.22" stroke="#000" stroke-width="1.1" stroke-linecap="butt"/>
<text x="50.2" y="412.05" font-size="7.3" text-anchor="end" fill="#111">60</text>
<line x1="50.8" y1="388.06" x2="54.2" y2="388.06" stroke="#000" stroke-width="1.1" stroke-linecap="butt"/>
<text x="50.2" y="390.89" font-size="7.3" text-anchor="end" fill="#111">80</text>
<line x1="50.8" y1="366.9" x2="54.2" y2="366.9" stroke="#000" stroke-width="1.1" stroke-linecap="butt"/>
<text x="50.2" y="369.73" font-size="7.3" text-anchor="end" fill="#111">100</text>
<line x1="53.55" y1="472.7" x2="213.4" y2="472.7" stroke="#000" stroke-width="1.3" stroke-linecap="butt"/>
<line x1="57.1" y1="472.7" x2="57.1" y2="476.1" stroke="#000" stroke-width="1.1" stroke-linecap="butt"/>
<text x="57.1" y="483.6" font-size="7.3" text-anchor="middle" fill="#111">0</text>
<line x1="63.48" y1="472.7" x2="63.48" y2="476.1" stroke="#000" stroke-width="1.1" stroke-linecap="butt"/>
<text x="63.48" y="483.6" font-size="7.3" text-anchor="middle" fill="#111">1</text>
<line x1="76.24" y1="472.7" x2="76.24" y2="476.1" stroke="#000" stroke-width="1.1" stroke-linecap="butt"/>
<text x="76.24" y="483.6" font-size="7.3" text-anchor="middle" fill="#111">3</text>
<line x1="95.38" y1="472.7" x2="95.38" y2="476.1" stroke="#000" stroke-width="1.1" stroke-linecap="butt"/>
<text x="95.38" y="483.6" font-size="7.3" text-anchor="middle" fill="#111">6</text>
<line x1="133.66" y1="472.7" x2="133.66" y2="476.1" stroke="#000" stroke-width="1.1" stroke-linecap="butt"/>
<text x="133.66" y="483.6" font-size="7.3" text-anchor="middle" fill="#111">12</text>
<line x1="210.22" y1="472.7" x2="210.22" y2="476.1" stroke="#000" stroke-width="1.1" stroke-linecap="butt"/>
<text x="210.22" y="483.6" font-size="7.3" text-anchor="middle" fill="#111">24</text>
<path d="M56.9 412.6L64.1 413.9L76.5 404.6L95.6 401L133.9 397.3L210.2 395.6" stroke="#000" stroke-width="1.45" fill="none" stroke-linejoin="round"/>
<line x1="56.9" y1="398.8" x2="56.9" y2="412.6" stroke="#000" stroke-width="1" stroke-linecap="butt"/>
<line x1="53.3" y1="398.8" x2="60.5" y2="398.8" stroke="#000" stroke-width="1" stroke-linecap="butt"/>
<line x1="56.9" y1="412.6" x2="56.9" y2="436" stroke="#000" stroke-width="1" stroke-linecap="butt"/>
<line x1="53.3" y1="436" x2="60.5" y2="436" stroke="#000" stroke-width="1" stroke-linecap="butt"/>
<line x1="64.1" y1="399" x2="64.1" y2="413.9" stroke="#000" stroke-width="1" stroke-linecap="butt"/>
<line x1="60.5" y1="399" x2="67.7" y2="399" stroke="#000" stroke-width="1" stroke-linecap="butt"/>
<line x1="64.1" y1="413.9" x2="64.1" y2="427.4" stroke="#000" stroke-width="1" stroke-linecap="butt"/>
<line x1="60.5" y1="427.4" x2="67.7" y2="427.4" stroke="#000" stroke-width="1" stroke-linecap="butt"/>
<line x1="76.5" y1="395.9" x2="76.5" y2="404.6" stroke="#000" stroke-width="1" stroke-linecap="butt"/>
<line x1="72.9" y1="395.9" x2="80.1" y2="395.9" stroke="#000" stroke-width="1" stroke-linecap="butt"/>
<line x1="76.5" y1="404.6" x2="76.5" y2="421.7" stroke="#000" stroke-width="1" stroke-linecap="butt"/>
<line x1="72.9" y1="421.7" x2="80.1" y2="421.7" stroke="#000" stroke-width="1" stroke-linecap="butt"/>
<line x1="95.6" y1="393.5" x2="95.6" y2="401" stroke="#000" stroke-width="1" stroke-linecap="butt"/>
<line x1="92" y1="393.5" x2="99.2" y2="393.5" stroke="#000" stroke-width="1" stroke-linecap="butt"/>
<line x1="95.6" y1="401" x2="95.6" y2="414.2" stroke="#000" stroke-width="1" stroke-linecap="butt"/>
<line x1="92" y1="414.2" x2="99.2" y2="414.2" stroke="#000" stroke-width="1" stroke-linecap="butt"/>
<line x1="133.9" y1="392" x2="133.9" y2="397.3" stroke="#000" stroke-width="1" stroke-linecap="butt"/>
<line x1="130.3" y1="392" x2="137.5" y2="392" stroke="#000" stroke-width="1" stroke-linecap="butt"/>
<line x1="133.9" y1="397.3" x2="133.9" y2="408" stroke="#000" stroke-width="1" stroke-linecap="butt"/>
<line x1="130.3" y1="408" x2="137.5" y2="408" stroke="#000" stroke-width="1" stroke-linecap="butt"/>
<line x1="210.2" y1="387.7" x2="210.2" y2="395.6" stroke="#000" stroke-width="1" stroke-linecap="butt"/>
<line x1="206.6" y1="387.7" x2="213.8" y2="387.7" stroke="#000" stroke-width="1" stroke-linecap="butt"/>
<line x1="210.2" y1="395.6" x2="210.2" y2="408.5" stroke="#000" stroke-width="1" stroke-linecap="butt"/>
<line x1="206.6" y1="408.5" x2="213.8" y2="408.5" stroke="#000" stroke-width="1" stroke-linecap="butt"/>
<circle cx="56.9" cy="412.6" r="3.45"/>
<circle cx="64.1" cy="413.9" r="3.45"/>
<circle cx="76.5" cy="404.6" r="3.45"/>
<circle cx="95.6" cy="401" r="3.45"/>
<circle cx="133.9" cy="397.3" r="3.45"/>
<circle cx="210.2" cy="395.6" r="3.45"/>
<text x="102.45" y="385.84" font-size="12" stroke="#000" stroke-width="0.35" transform="rotate(-90 102.45 385.84)">*</text>
<text x="102.45" y="391.54" font-size="12" stroke="#000" stroke-width="0.35" transform="rotate(-90 102.45 391.54)">*</text>
<text x="140.45" y="379.34" font-size="12" stroke="#000" stroke-width="0.35" transform="rotate(-90 140.45 379.34)">*</text>
<text x="140.45" y="384.64" font-size="12" stroke="#000" stroke-width="0.35" transform="rotate(-90 140.45 384.64)">*</text>
<text x="140.45" y="389.94" font-size="12" stroke="#000" stroke-width="0.35" transform="rotate(-90 140.45 389.94)">*</text>
<text x="217.25" y="374.54" font-size="12" stroke="#000" stroke-width="0.35" transform="rotate(-90 217.25 374.54)">*</text>
<text x="217.25" y="379.94" font-size="12" stroke="#000" stroke-width="0.35" transform="rotate(-90 217.25 379.94)">*</text>
<text x="217.25" y="385.34" font-size="12" stroke="#000" stroke-width="0.35" transform="rotate(-90 217.25 385.34)">*</text>
<text x="64.59" y="352.84" font-size="11.5" fill="#888" stroke="#888" stroke-width="0.25" transform="rotate(-90 64.59 352.84)">*</text>
<text x="64.59" y="358.14" font-size="11.5" fill="#888" stroke="#888" stroke-width="0.25" transform="rotate(-90 64.59 358.14)">*</text>
<text x="64.59" y="363.44" font-size="11.5" fill="#888" stroke="#888" stroke-width="0.25" transform="rotate(-90 64.59 363.44)">*</text>
<text x="71.09" y="352.84" font-size="11.5" fill="#888" stroke="#888" stroke-width="0.25" transform="rotate(-90 71.09 352.84)">*</text>
<text x="71.09" y="358.14" font-size="11.5" fill="#888" stroke="#888" stroke-width="0.25" transform="rotate(-90 71.09 358.14)">*</text>
<text x="71.09" y="363.44" font-size="11.5" fill="#888" stroke="#888" stroke-width="0.25" transform="rotate(-90 71.09 363.44)">*</text>
<text x="82.59" y="352.84" font-size="11.5" fill="#888" stroke="#888" stroke-width="0.25" transform="rotate(-90 82.59 352.84)">*</text>
<text x="82.59" y="358.14" font-size="11.5" fill="#888" stroke="#888" stroke-width="0.25" transform="rotate(-90 82.59 358.14)">*</text>
<text x="82.59" y="363.44" font-size="11.5" fill="#888" stroke="#888" stroke-width="0.25" transform="rotate(-90 82.59 363.44)">*</text>
<text x="102.79" y="352.84" font-size="11.5" fill="#888" stroke="#888" stroke-width="0.25" transform="rotate(-90 102.79 352.84)">*</text>
<text x="102.79" y="358.14" font-size="11.5" fill="#888" stroke="#888" stroke-width="0.25" transform="rotate(-90 102.79 358.14)">*</text>
<text x="102.79" y="363.44" font-size="11.5" fill="#888" stroke="#888" stroke-width="0.25" transform="rotate(-90 102.79 363.44)">*</text>
<text x="140.19" y="352.84" font-size="11.5" fill="#888" stroke="#888" stroke-width="0.25" transform="rotate(-90 140.19 352.84)">*</text>
<text x="140.19" y="358.14" font-size="11.5" fill="#888" stroke="#888" stroke-width="0.25" transform="rotate(-90 140.19 358.14)">*</text>
<text x="140.19" y="363.44" font-size="11.5" fill="#888" stroke="#888" stroke-width="0.25" transform="rotate(-90 140.19 363.44)">*</text>
<text x="217.69" y="352.84" font-size="11.5" fill="#888" stroke="#888" stroke-width="0.25" transform="rotate(-90 217.69 352.84)">*</text>
<text x="217.69" y="358.14" font-size="11.5" fill="#888" stroke="#888" stroke-width="0.25" transform="rotate(-90 217.69 358.14)">*</text>
<text x="217.69" y="363.44" font-size="11.5" fill="#888" stroke="#888" stroke-width="0.25" transform="rotate(-90 217.69 363.44)">*</text>
<text x="22.2" y="459.8" font-size="10.4" font-weight="bold" textLength="78.9" lengthAdjust="spacingAndGlyphs" transform="rotate(-90 22.2 459.8)" stroke="#000" stroke-width="0.25">%CD4+CD127+</text>
<text x="95.9" y="499.1" font-size="9.8" font-weight="bold" textLength="74" lengthAdjust="spacingAndGlyphs" stroke="#000" stroke-width="0.25">Months on ART</text>
<line x1="306.5" y1="422.1" x2="461.4" y2="422.1" stroke="#999" stroke-width="1.6" stroke-dasharray="8.2 2.48" stroke-linecap="butt"/>
<line x1="303.6" y1="365.95" x2="303.6" y2="473.75" stroke="#000" stroke-width="1.3" stroke-linecap="butt"/>
<line x1="300.2" y1="473.1" x2="303.6" y2="473.1" stroke="#000" stroke-width="1.1" stroke-linecap="butt"/>
<text x="299.6" y="476.03" font-size="7.3" text-anchor="end" fill="#111">0</text>
<line x1="300.2" y1="451.8" x2="303.6" y2="451.8" stroke="#000" stroke-width="1.1" stroke-linecap="butt"/>
<text x="299.6" y="454.73" font-size="7.3" text-anchor="end" fill="#111">20</text>
<line x1="300.2" y1="430.5" x2="303.6" y2="430.5" stroke="#000" stroke-width="1.1" stroke-linecap="butt"/>
<text x="299.6" y="433.43" font-size="7.3" text-anchor="end" fill="#111">40</text>
<line x1="300.2" y1="409.2" x2="303.6" y2="409.2" stroke="#000" stroke-width="1.1" stroke-linecap="butt"/>
<text x="299.6" y="412.13" font-size="7.3" text-anchor="end" fill="#111">60</text>
<line x1="300.2" y1="387.9" x2="303.6" y2="387.9" stroke="#000" stroke-width="1.1" stroke-linecap="butt"/>
<text x="299.6" y="390.83" font-size="7.3" text-anchor="end" fill="#111">80</text>
<line x1="300.2" y1="366.6" x2="303.6" y2="366.6" stroke="#000" stroke-width="1.1" stroke-linecap="butt"/>
<text x="299.6" y="369.53" font-size="7.3" text-anchor="end" fill="#111">100</text>
<line x1="302.95" y1="473.1" x2="465.4" y2="473.1" stroke="#000" stroke-width="1.3" stroke-linecap="butt"/>
<line x1="306.9" y1="473.1" x2="306.9" y2="476.5" stroke="#000" stroke-width="1.1" stroke-linecap="butt"/>
<text x="306.9" y="484" font-size="7.3" text-anchor="middle" fill="#111">0</text>
<line x1="313.34" y1="473.1" x2="313.34" y2="476.5" stroke="#000" stroke-width="1.1" stroke-linecap="butt"/>
<text x="313.34" y="484" font-size="7.3" text-anchor="middle" fill="#111">1</text>
<line x1="326.22" y1="473.1" x2="326.22" y2="476.5" stroke="#000" stroke-width="1.1" stroke-linecap="butt"/>
<text x="326.22" y="484" font-size="7.3" text-anchor="middle" fill="#111">3</text>
<line x1="345.54" y1="473.1" x2="345.54" y2="476.5" stroke="#000" stroke-width="1.1" stroke-linecap="butt"/>
<text x="345.54" y="484" font-size="7.3" text-anchor="middle" fill="#111">6</text>
<line x1="384.18" y1="473.1" x2="384.18" y2="476.5" stroke="#000" stroke-width="1.1" stroke-linecap="butt"/>
<text x="384.18" y="484" font-size="7.3" text-anchor="middle" fill="#111">12</text>
<line x1="461.46" y1="473.1" x2="461.46" y2="476.5" stroke="#000" stroke-width="1.1" stroke-linecap="butt"/>
<text x="461.46" y="484" font-size="7.3" text-anchor="middle" fill="#111">24</text>
<path d="M306.9 458.5L313.8 455.3L326.5 452.1L345.6 448.5L383.9 445L461.4 436.7" stroke="#000" stroke-width="1.45" fill="none" stroke-linejoin="round"/>
<line x1="306.9" y1="446.1" x2="306.9" y2="458.5" stroke="#000" stroke-width="1" stroke-linecap="butt"/>
<line x1="303.3" y1="446.1" x2="310.5" y2="446.1" stroke="#000" stroke-width="1" stroke-linecap="butt"/>
<line x1="306.9" y1="458.5" x2="306.9" y2="461.2" stroke="#000" stroke-width="1" stroke-linecap="butt"/>
<line x1="303.3" y1="461.2" x2="310.5" y2="461.2" stroke="#000" stroke-width="1" stroke-linecap="butt"/>
<line x1="313.8" y1="445.3" x2="313.8" y2="455.3" stroke="#000" stroke-width="1" stroke-linecap="butt"/>
<line x1="310.2" y1="445.3" x2="317.4" y2="445.3" stroke="#000" stroke-width="1" stroke-linecap="butt"/>
<line x1="313.8" y1="455.3" x2="313.8" y2="464.4" stroke="#000" stroke-width="1" stroke-linecap="butt"/>
<line x1="310.2" y1="464.4" x2="317.4" y2="464.4" stroke="#000" stroke-width="1" stroke-linecap="butt"/>
<line x1="326.5" y1="444.5" x2="326.5" y2="452.1" stroke="#000" stroke-width="1" stroke-linecap="butt"/>
<line x1="322.9" y1="444.5" x2="330.1" y2="444.5" stroke="#000" stroke-width="1" stroke-linecap="butt"/>
<line x1="326.5" y1="452.1" x2="326.5" y2="458.5" stroke="#000" stroke-width="1" stroke-linecap="butt"/>
<line x1="322.9" y1="458.5" x2="330.1" y2="458.5" stroke="#000" stroke-width="1" stroke-linecap="butt"/>
<line x1="345.6" y1="439" x2="345.6" y2="448.5" stroke="#000" stroke-width="1" stroke-linecap="butt"/>
<line x1="342" y1="439" x2="349.2" y2="439" stroke="#000" stroke-width="1" stroke-linecap="butt"/>
<line x1="345.6" y1="448.5" x2="345.6" y2="456.4" stroke="#000" stroke-width="1" stroke-linecap="butt"/>
<line x1="342" y1="456.4" x2="349.2" y2="456.4" stroke="#000" stroke-width="1" stroke-linecap="butt"/>
<line x1="383.9" y1="432.6" x2="383.9" y2="445" stroke="#000" stroke-width="1" stroke-linecap="butt"/>
<line x1="380.3" y1="432.6" x2="387.5" y2="432.6" stroke="#000" stroke-width="1" stroke-linecap="butt"/>
<line x1="383.9" y1="445" x2="383.9" y2="449.8" stroke="#000" stroke-width="1" stroke-linecap="butt"/>
<line x1="380.3" y1="449.8" x2="387.5" y2="449.8" stroke="#000" stroke-width="1" stroke-linecap="butt"/>
<line x1="461.4" y1="424.2" x2="461.4" y2="436.7" stroke="#000" stroke-width="1" stroke-linecap="butt"/>
<line x1="457.8" y1="424.2" x2="465" y2="424.2" stroke="#000" stroke-width="1" stroke-linecap="butt"/>
<line x1="461.4" y1="436.7" x2="461.4" y2="448.1" stroke="#000" stroke-width="1" stroke-linecap="butt"/>
<line x1="457.8" y1="448.1" x2="465" y2="448.1" stroke="#000" stroke-width="1" stroke-linecap="butt"/>
<circle cx="306.9" cy="458.5" r="3.45"/>
<circle cx="313.8" cy="455.3" r="3.45"/>
<circle cx="326.5" cy="452.1" r="3.45"/>
<circle cx="345.6" cy="448.5" r="3.45"/>
<circle cx="383.9" cy="445" r="3.45"/>
<circle cx="461.4" cy="436.7" r="3.45"/>
<text x="352.15" y="436.04" font-size="12" stroke="#000" stroke-width="0.35" transform="rotate(-90 352.15 436.04)">*</text>
<text x="390.45" y="423.44" font-size="12" stroke="#000" stroke-width="0.35" transform="rotate(-90 390.45 423.44)">*</text>
<text x="390.45" y="428.44" font-size="12" stroke="#000" stroke-width="0.35" transform="rotate(-90 390.45 428.44)">*</text>
<text x="467.95" y="413.44" font-size="12" stroke="#000" stroke-width="0.35" transform="rotate(-90 467.95 413.44)">*</text>
<text x="467.95" y="418.94" font-size="12" stroke="#000" stroke-width="0.35" transform="rotate(-90 467.95 418.94)">*</text>
<text x="314.39" y="362.24" font-size="11.5" fill="#888" stroke="#888" stroke-width="0.25" transform="rotate(-90 314.39 362.24)">*</text>
<text x="314.39" y="367.64" font-size="11.5" fill="#888" stroke="#888" stroke-width="0.25" transform="rotate(-90 314.39 367.64)">*</text>
<text x="314.39" y="373.14" font-size="11.5" fill="#888" stroke="#888" stroke-width="0.25" transform="rotate(-90 314.39 373.14)">*</text>
<text x="321.09" y="362.24" font-size="11.5" fill="#888" stroke="#888" stroke-width="0.25" transform="rotate(-90 321.09 362.24)">*</text>
<text x="321.09" y="367.64" font-size="11.5" fill="#888" stroke="#888" stroke-width="0.25" transform="rotate(-90 321.09 367.64)">*</text>
<text x="321.09" y="373.14" font-size="11.5" fill="#888" stroke="#888" stroke-width="0.25" transform="rotate(-90 321.09 373.14)">*</text>
<text x="334.29" y="362.24" font-size="11.5" fill="#888" stroke="#888" stroke-width="0.25" transform="rotate(-90 334.29 362.24)">*</text>
<text x="334.29" y="367.64" font-size="11.5" fill="#888" stroke="#888" stroke-width="0.25" transform="rotate(-90 334.29 367.64)">*</text>
<text x="334.29" y="373.14" font-size="11.5" fill="#888" stroke="#888" stroke-width="0.25" transform="rotate(-90 334.29 373.14)">*</text>
<text x="352.79" y="364.74" font-size="11.5" fill="#888" stroke="#888" stroke-width="0.25" transform="rotate(-90 352.79 364.74)">*</text>
<text x="352.79" y="370.24" font-size="11.5" fill="#888" stroke="#888" stroke-width="0.25" transform="rotate(-90 352.79 370.24)">*</text>
<text x="392.09" y="366.84" font-size="11.5" fill="#888" stroke="#888" stroke-width="0.25" transform="rotate(-90 392.09 366.84)">*</text>
<text x="272" y="460.2" font-size="10.4" font-weight="bold" textLength="79.9" lengthAdjust="spacingAndGlyphs" transform="rotate(-90 272 460.2)" stroke="#000" stroke-width="0.25">%CD8+CD127+</text>
<text x="346.6" y="499.5" font-size="9.8" font-weight="bold" textLength="73.8" lengthAdjust="spacingAndGlyphs" stroke="#000" stroke-width="0.25">Months on ART</text>
</svg>
</body></html>
